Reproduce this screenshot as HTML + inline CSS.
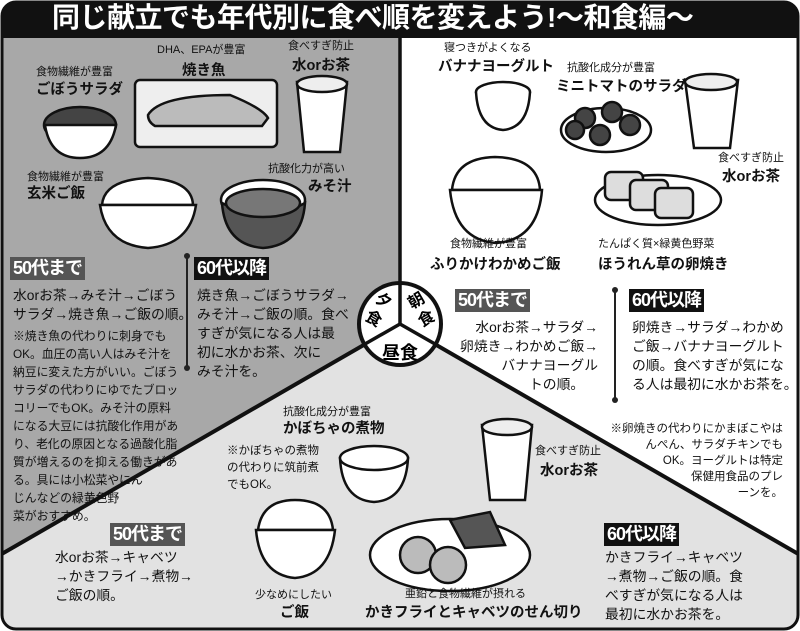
<!DOCTYPE html>
<html><head><meta charset="utf-8">
<style>
html,body{margin:0;padding:0;}
body{width:800px;height:631px;position:relative;overflow:hidden;background:#fff;font-family:"Liberation Sans","Noto Sans CJK JP",sans-serif;}
.t{position:absolute;white-space:nowrap;color:#111;line-height:1;}
.s{font-size:11px;}
.b{font-size:14.5px;font-weight:bold;}
.m{font-size:13.8px;line-height:19px;}
.n{font-size:11.8px;line-height:18px;}
.box{position:absolute;color:#fff;font-weight:bold;font-size:18px;line-height:23px;padding:0 3px;letter-spacing:-1px;}
</style></head><body>
<svg width="800" height="631" style="position:absolute;left:0;top:0">
  <defs><clipPath id="fr"><rect x="2" y="2" width="796" height="627" rx="14"/></clipPath></defs>
  <g clip-path="url(#fr)">
    <polygon points="0,0 400,0 400,324 0,555" fill="#a8a8a8"/>
    <polygon points="400,0 800,0 800,555 400,324" fill="#fff"/>
    <polygon points="0,555 400,324 800,555 800,631 0,631" fill="#e2e2e2"/>
    <rect x="0" y="0" width="800" height="38" fill="#111"/>
    <line x1="400" y1="38" x2="400" y2="324" stroke="#111" stroke-width="3.5"/>
    <line x1="400" y1="324" x2="0" y2="555" stroke="#111" stroke-width="4"/>
    <line x1="400" y1="324" x2="800" y2="555" stroke="#111" stroke-width="4"/>
  </g>
  <rect x="2" y="2" width="796" height="627" rx="14" fill="none" stroke="#111" stroke-width="3"/>
  <circle cx="400" cy="324" r="41" fill="#fff" stroke="#111" stroke-width="4"/>
  <line x1="400" y1="283" x2="400" y2="324" stroke="#111" stroke-width="3.5"/>
  <line x1="400" y1="324" x2="365" y2="344" stroke="#111" stroke-width="3.5"/>
  <line x1="400" y1="324" x2="435" y2="344" stroke="#111" stroke-width="3.5"/>
  <g font-size="16" font-weight="bold" text-anchor="middle" font-family="Liberation Sans,Noto Sans CJK JP,sans-serif">
    <text x="384" y="306" transform="rotate(30 384 300)">夕</text>
    <text x="374" y="324" transform="rotate(30 374 318)">食</text>
    <text x="416" y="306" transform="rotate(-30 416 300)">朝</text>
    <text x="426" y="324" transform="rotate(-30 426 318)">食</text>
    <text x="400" y="359" font-size="18">昼食</text>
  </g>

  <g stroke="#222" stroke-width="2">
    <line x1="187" y1="256" x2="187" y2="368"/><line x1="615" y1="290" x2="615" y2="400"/>
  </g>
  <g fill="#222"><circle cx="187" cy="256" r="3"/><circle cx="187" cy="368" r="3"/><circle cx="615" cy="290" r="3"/><circle cx="615" cy="400" r="3"/></g>

  <g stroke="#111" stroke-width="2.5">
  <ellipse cx="80" cy="125" rx="36" ry="18" fill="#444"/>
  <path d="M45,125 Q50,158 80,158 Q110,158 116,125 Z" fill="#fff"/>
  <rect x="135" y="80" width="142" height="67" rx="5" fill="#eee"/>
  <path d="M148,115 Q160,95 230,95 Q262,108 268,118 L262,126 L155,126 Q148,122 148,115Z" fill="#bbb"/>
  <path d="M297,82 L347,82 L340,152 L304,152 Z" fill="#fff"/>
  <ellipse cx="322" cy="84" rx="25" ry="8" fill="#eee"/>
  <path d="M102,205 Q104,180 148,178 Q192,180 193,205 Z" fill="#fff"/>
  <path d="M100,205 L196,205 Q190,245 148,248 Q106,245 100,205Z" fill="#fff"/>
  <ellipse cx="263" cy="200" rx="42" ry="20" fill="#fff"/>
  <path d="M222,203 Q225,245 263,248 Q302,245 305,203 Q263,226 222,203Z" fill="#555"/>
  <ellipse cx="263" cy="203" rx="37" ry="14" fill="#777"/>

  <ellipse cx="503" cy="92" rx="27" ry="10" fill="#fff"/>
  <path d="M476,92 Q478,128 503,130 Q528,128 530,92" fill="#fff"/>
  <ellipse cx="606" cy="130" rx="45" ry="22" fill="#fff"/>
  <circle cx="585" cy="118" r="10" fill="#444"/><circle cx="612" cy="112" r="10" fill="#444"/><circle cx="630" cy="125" r="10" fill="#444"/><circle cx="600" cy="135" r="10" fill="#444"/><circle cx="575" cy="130" r="9" fill="#444"/>
  <path d="M685,80 L738,80 L730,148 L694,148 Z" fill="#fff"/>
  <ellipse cx="711" cy="82" rx="26" ry="8" fill="#eee"/>
  <path d="M452,190 Q455,158 495,157 Q538,158 540,190 Z" fill="#fff"/>
  <path d="M450,190 L542,190 Q538,240 496,243 Q455,240 450,190Z" fill="#fff"/>
  <ellipse cx="658" cy="200" rx="63" ry="25" fill="#fff"/>
  <rect x="605" y="172" width="38" height="28" rx="6" fill="#ddd"/><rect x="630" y="180" width="38" height="30" rx="6" fill="#ddd"/><rect x="655" y="188" width="38" height="30" rx="6" fill="#ddd"/>

  <path d="M340,458 Q342,500 374,502 Q406,500 408,458 Z" fill="#fff"/>
  <ellipse cx="374" cy="458" rx="34" ry="12" fill="#fff"/>
  <path d="M482,425 L532,425 L525,500 L490,500 Z" fill="#fff"/>
  <ellipse cx="507" cy="427" rx="25" ry="8" fill="#eee"/>
  <path d="M258,530 Q262,500 295,500 Q330,500 333,530Z" fill="#fff"/>
  <path d="M256,530 L335,530 Q330,575 295,578 Q260,575 256,530Z" fill="#fff"/>
  <ellipse cx="450" cy="555" rx="80" ry="36" fill="#fff"/>
  <circle cx="418" cy="555" r="18" fill="#bbb"/><circle cx="448" cy="565" r="18" fill="#bbb"/>
  <path d="M450,520 L490,512 L505,545 L465,548Z" fill="#555"/>
  </g>
</svg>

<div class="t" style="left:52px;top:4px;font-size:28px;font-weight:bold;color:#fff;letter-spacing:-0.5px;">同じ献立でも年代別に食べ順を変えよう!〜和食編〜</div>

<div class="t s" style="left:157px;top:45px;">DHA、EPAが豊富</div>
<div class="t b" style="left:182px;top:64px;">焼き魚</div>
<div class="t s" style="left:288px;top:41px;">食べすぎ防止</div>
<div class="t b" style="left:292px;top:59px;">水orお茶</div>
<div class="t s" style="left:36px;top:67px;">食物繊維が豊富</div>
<div class="t b" style="left:36px;top:83px;">ごぼうサラダ</div>
<div class="t s" style="left:27px;top:172px;">食物繊維が豊富</div>
<div class="t b" style="left:27px;top:187px;">玄米ご飯</div>
<div class="t s" style="left:268px;top:164px;">抗酸化力が高い</div>
<div class="t b" style="left:308px;top:180px;">みそ汁</div>

<div class="box" style="left:10px;top:257px;background:#555;">50代まで</div>
<div class="t m" style="left:13px;top:286px;">水orお茶→みそ汁→ごぼう<br>サラダ→焼き魚→ご飯の順。</div>
<div class="t n" style="left:13px;top:327px;">※焼き魚の代わりに刺身でも<br>OK。血圧の高い人はみそ汁を<br>納豆に変えた方がいい。ごぼう<br>サラダの代わりにゆでたブロッ<br>コリーでもOK。みそ汁の原料<br>になる大豆には抗酸化作用があ<br>り、老化の原因となる過酸化脂<br>質が増えるのを抑える働きがあ<br>る。具には小松菜やにん<br>じんなどの緑黄色野<br>菜がおすすめ。</div>
<div class="box" style="left:194px;top:257px;background:#111;">60代以降</div>
<div class="t m" style="left:197px;top:286px;">焼き魚→ごぼうサラダ→<br>みそ汁→ご飯の順。食べ<br>すぎが気になる人は最<br>初に水かお茶、次に<br>みそ汁を。</div>

<div class="t s" style="left:444px;top:43px;">寝つきがよくなる</div>
<div class="t b" style="left:438px;top:60px;">バナナヨーグルト</div>
<div class="t s" style="left:567px;top:63px;">抗酸化成分が豊富</div>
<div class="t b" style="left:556px;top:80px;">ミニトマトのサラダ</div>
<div class="t s" style="left:718px;top:153px;">食べすぎ防止</div>
<div class="t b" style="left:722px;top:170px;">水orお茶</div>
<div class="t s" style="left:450px;top:239px;">食物繊維が豊富</div>
<div class="t b" style="left:430px;top:258px;">ふりかけわかめご飯</div>
<div class="t s" style="left:598px;top:239px;">たんぱく質×緑黄色野菜</div>
<div class="t b" style="left:598px;top:258px;">ほうれん草の卵焼き</div>

<div class="box" style="left:455px;top:289px;background:#555;">50代まで</div>
<div class="t m" style="left:448px;top:318px;width:150px;text-align:right;">水orお茶→サラダ→<br>卵焼き→わかめご飯→<br>バナナヨーグル</div>
<div class="t m" style="left:529px;top:375px;">トの順。</div>
<div class="box" style="left:629px;top:289px;background:#111;">60代以降</div>
<div class="t m" style="left:632px;top:318px;">卵焼き→サラダ→わかめ<br>ご飯→バナナヨーグルト<br>の順。食べすぎが気にな<br>る人は最初に水かお茶を。</div>
<div class="t n" style="left:590px;top:421px;width:193px;text-align:right;line-height:16px;font-size:11.5px;">※卵焼きの代わりにかまぼこやは<br>んぺん、サラダチキンでも<br>OK。ヨーグルトは特定<br>保健用食品のプレ<br>ーンを。</div>

<div class="t s" style="left:283px;top:407px;">抗酸化成分が豊富</div>
<div class="t b" style="left:283px;top:422px;">かぼちゃの煮物</div>
<div class="t n" style="left:227px;top:443px;font-size:11.5px;line-height:17px;">※かぼちゃの煮物<br>の代わりに筑前煮<br>でもOK。</div>
<div class="t s" style="left:535px;top:446px;">食べすぎ防止</div>
<div class="t b" style="left:540px;top:464px;">水orお茶</div>
<div class="box" style="left:110px;top:523px;background:#555;">50代まで</div>
<div class="t m" style="left:55px;top:548px;">水orお茶→キャベツ<br>→かきフライ→煮物→<br>ご飯の順。</div>
<div class="box" style="left:604px;top:523px;background:#111;">60代以降</div>
<div class="t m" style="left:605px;top:548px;">かきフライ→キャベツ<br>→煮物→ご飯の順。食<br>べすぎが気になる人は<br>最初に水かお茶を。</div>
<div class="t s" style="left:255px;top:590px;">少なめにしたい</div>
<div class="t b" style="left:280px;top:606px;">ご飯</div>
<div class="t s" style="left:405px;top:589px;">亜鉛と食物繊維が摂れる</div>
<div class="t b" style="left:365px;top:606px;">かきフライとキャベツのせん切り</div>
</body></html>
